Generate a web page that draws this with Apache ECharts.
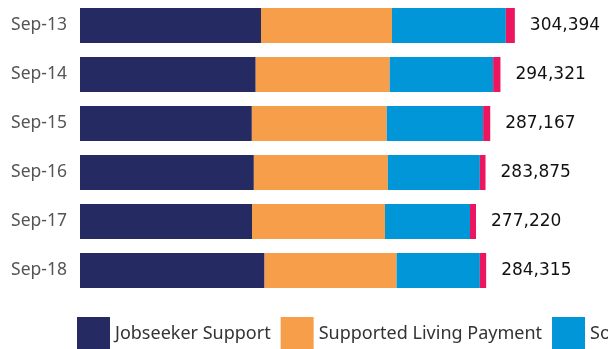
<!DOCTYPE html>
<html>
<head>
<meta charset="utf-8">
<script src="https://cdn.jsdelivr.net/npm/echarts@6/dist/echarts.min.js"></script>
<style>
  html, body { margin: 0; padding: 0; background: #fff; }
  #chart { width: 608px; height: 349px; }
</style>
</head>
<body>
<div id="chart"></div>
<script>
// 类别与数据
const categories = ['Sep-13', 'Sep-14', 'Sep-15', 'Sep-16', 'Sep-17', 'Sep-18'];
const jobseeker = [126700, 123000, 120300, 121700, 120400, 129200];
const supportedLiving = [91700, 93800, 94400, 93800, 93100, 92400];
const soleParent = [79700, 72400, 67500, 64400, 59500, 58300];
const other = [6294, 5121, 4967, 3975, 4220, 4415];
const totals = [304394, 294321, 287167, 283875, 277220, 284315];

const chart = echarts.init(document.getElementById('chart'));

const fmt = n => n.toLocaleString('en-US');

const option = {
  animation: false,
  textStyle: { fontFamily: 'Noto Sans' },
  grid: {
    left: 80,
    top: 1,
    height: 294,
    width: 500
  },
  xAxis: {
    type: 'value',
    min: 0,
    max: 350000,
    show: false
  },
  yAxis: {
    type: 'category',
    inverse: true,
    data: categories,
    axisLine: { show: false },
    axisTick: { show: false },
    splitLine: { show: false },
    axisLabel: {
      color: '#555',
      fontSize: 17.5,
      margin: 13
    }
  },
  legend: {
    left: 77,
    top: 317,
    padding: 0,
    width: 1200,
    itemWidth: 33,
    itemHeight: 33,
    itemGap: 10,
    icon: 'rect',
    textStyle: { color: '#333', fontSize: 18 },
    data: ['Jobseeker Support', 'Supported Living Payment', 'Sole Parent Support', 'Other main benefits']
  },
  series: [
    { name: 'Jobseeker Support', type: 'bar', stack: 'all', barWidth: 35, data: jobseeker, itemStyle: { color: '#262a62' } },
    { name: 'Supported Living Payment', type: 'bar', stack: 'all', data: supportedLiving, itemStyle: { color: '#f79e4b' } },
    { name: 'Sole Parent Support', type: 'bar', stack: 'all', data: soleParent, itemStyle: { color: '#0096d8' } },
    {
      name: 'Other main benefits', type: 'bar', stack: 'all', data: other,
      itemStyle: { color: '#ec1560' },
      label: {
        show: true,
        position: 'right',
        distance: 15,
        color: '#111',
        fontSize: 17,
        fontFamily: 'DejaVu Sans',
        formatter: p => fmt(totals[p.dataIndex])
      }
    }
  ]
};

chart.setOption(option);
</script>
</body>
</html>
